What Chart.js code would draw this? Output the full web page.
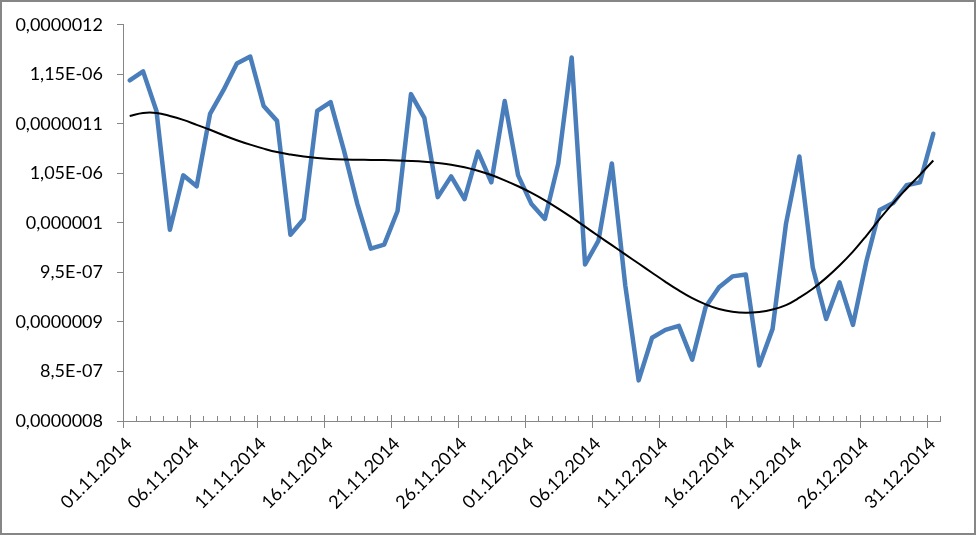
<!DOCTYPE html>
<html>
<head>
<meta charset="utf-8">
<script src="https://cdn.jsdelivr.net/npm/chart.js@4"></script>
<style>
  html, body { margin: 0; padding: 0; background: #fff; }
  #wrap { width: 976px; height: 535px; position: relative; }
</style>
</head>
<body>
<div id="wrap"><canvas id="graf" width="976" height="535"></canvas></div>
<script>
const dates = [
    '01.11.2014', '02.11.2014', '03.11.2014', '04.11.2014', '05.11.2014', '06.11.2014', '07.11.2014', '08.11.2014',
    '09.11.2014', '10.11.2014', '11.11.2014', '12.11.2014', '13.11.2014', '14.11.2014', '15.11.2014', '16.11.2014',
    '17.11.2014', '18.11.2014', '19.11.2014', '20.11.2014', '21.11.2014', '22.11.2014', '23.11.2014', '24.11.2014',
    '25.11.2014', '26.11.2014', '27.11.2014', '28.11.2014', '29.11.2014', '30.11.2014', '01.12.2014', '02.12.2014',
    '03.12.2014', '04.12.2014', '05.12.2014', '06.12.2014', '07.12.2014', '08.12.2014', '09.12.2014', '10.12.2014',
    '11.12.2014', '12.12.2014', '13.12.2014', '14.12.2014', '15.12.2014', '16.12.2014', '17.12.2014', '18.12.2014',
    '19.12.2014', '20.12.2014', '21.12.2014', '22.12.2014', '23.12.2014', '24.12.2014', '25.12.2014', '26.12.2014',
    '27.12.2014', '28.12.2014', '29.12.2014', '30.12.2014', '31.12.2014'
];

// measured values
const values = [
    11.44e-7, 11.53e-7, 11.13e-7, 9.93e-7, 10.48e-7, 10.37e-7, 11.10e-7, 11.34e-7, 11.61e-7, 11.68e-7,
    11.18e-7, 11.03e-7, 9.88e-7, 10.04e-7, 11.13e-7, 11.22e-7, 10.73e-7, 10.19e-7, 9.74e-7, 9.78e-7,
    10.12e-7, 11.30e-7, 11.06e-7, 10.26e-7, 10.47e-7, 10.24e-7, 10.72e-7, 10.41e-7, 11.23e-7, 10.48e-7,
    10.19e-7, 10.04e-7, 10.60e-7, 11.67e-7, 9.58e-7, 9.82e-7, 10.60e-7, 9.37e-7, 8.41e-7, 8.84e-7,
    8.92e-7, 8.96e-7, 8.62e-7, 9.15e-7, 9.35e-7, 9.46e-7, 9.48e-7, 8.56e-7, 8.93e-7, 9.99e-7,
    10.67e-7, 9.55e-7, 9.03e-7, 9.40e-7, 8.97e-7, 9.61e-7, 10.13e-7, 10.20e-7, 10.38e-7, 10.41e-7,
    10.90e-7
];

// trend line
const trend = [
    11.08e-7, 11.11e-7, 11.11e-7, 11.08e-7, 11.04e-7, 10.99e-7, 10.94e-7, 10.885e-7, 10.835e-7, 10.79e-7,
    10.75e-7, 10.715e-7, 10.69e-7, 10.67e-7, 10.655e-7, 10.645e-7, 10.64e-7, 10.638e-7, 10.636e-7, 10.634e-7,
    10.631e-7, 10.626e-7, 10.618e-7, 10.605e-7, 10.588e-7, 10.562e-7, 10.527e-7, 10.483e-7, 10.43e-7, 10.37e-7,
    10.303e-7, 10.228e-7, 10.145e-7, 10.055e-7, 9.962e-7, 9.868e-7, 9.775e-7, 9.682e-7, 9.59e-7, 9.497e-7,
    9.405e-7, 9.318e-7, 9.24e-7, 9.178e-7, 9.13e-7, 9.102e-7, 9.092e-7, 9.10e-7, 9.125e-7, 9.17e-7,
    9.245e-7, 9.335e-7, 9.445e-7, 9.57e-7, 9.71e-7, 9.87e-7, 10.04e-7, 10.20e-7, 10.345e-7, 10.485e-7,
    10.63e-7
];

const yTicks = [8e-7, 8.5e-7, 9e-7, 9.5e-7, 10e-7, 10.5e-7, 11e-7, 11.5e-7, 12e-7];
const yTickLabels = ['0,0000008', '8,5E-07', '0,0000009', '9,5E-07', '0,000001', '1,05E-06', '0,0000011', '1,15E-06', '0,0000012'];

const axisColor = '#868686';

const frame = {
    id: 'frame',
    beforeDraw(chart) {
        const c = chart.ctx;
        c.save();
        c.fillStyle = '#fff';
        c.fillRect(0, 0, chart.width, chart.height);
        c.restore();
    },
    afterDraw(chart) {
        const c = chart.ctx;
        const x = chart.scales.x;
        const y0 = chart.chartArea.bottom;
        c.save();
        c.strokeStyle = axisColor;
        c.lineWidth = 1;
        for (var i = 0; i <= dates.length; i++) {
            const px = Math.round(x.getPixelForValue(i)) + 0.5;
            c.beginPath();
            if (i % 5 == 0) {
                c.moveTo(px, y0 - 6);
                c.lineTo(px, y0 + 7);
            } else {
                c.moveTo(px, y0 - 5);
                c.lineTo(px, y0);
            }
            c.stroke();
        }
        c.lineWidth = 2;
        c.strokeRect(1, 1, chart.width - 2, chart.height - 2);
        c.restore();
    }
};

const graf = document.getElementById('graf');
new Chart(graf, {
    type: 'line',
    data: {
        datasets: [{
            label: 'trend',
            data: trend.map((v, i) => ({ x: i + 0.5, y: v })),
            borderColor: '#000000',
            borderWidth: 2,
            pointRadius: 0,
            tension: 0.4,
            order: 0
        }, {
            label: 'values',
            data: values.map((v, i) => ({ x: i + 0.5, y: v })),
            borderColor: '#4a7ebb',
            borderWidth: 4.5,
            borderJoinStyle: 'round',
            borderCapStyle: 'round',
            pointRadius: 0,
            tension: 0,
            order: 1
        }]
    },
    options: {
        responsive: false,
        animation: false,
        events: [],
        layout: { padding: { left: 0, top: 24, right: 36, bottom: 0 } },
        plugins: {
            legend: { display: false },
            tooltip: { enabled: false }
        },
        scales: {
            x: {
                type: 'linear',
                min: 0,
                max: dates.length,
                afterFit: function (s) { s.height = 114; },
                afterBuildTicks: function (s) {
                    s.ticks = dates.map((d, i) => ({ value: i })).concat([{ value: dates.length }]);
                },
                grid: { drawOnChartArea: false, drawTicks: false },
                border: { color: axisColor, width: 1 },
                ticks: {
                    autoSkip: false,
                    maxRotation: 45,
                    minRotation: 45,
                    padding: 12,
                    labelOffset: 6,
                    color: '#000',
                    font: { family: 'Lato', size: 18 },
                    callback: function (v, i) { return (i % 5 == 0 && i < dates.length) ? dates[i] : ''; }
                }
            },
            y: {
                min: yTicks[0],
                max: yTicks[yTicks.length - 1],
                afterFit: function (s) { s.width = 123; },
                afterBuildTicks: function (s) {
                    s.ticks = yTicks.map(v => ({ value: v }));
                },
                grid: { drawOnChartArea: false, tickLength: 6, color: axisColor },
                border: { color: axisColor, width: 1 },
                ticks: {
                    padding: 14,
                    color: '#000',
                    font: { family: 'Lato', size: 18 },
                    callback: function (v, i) { return yTickLabels[i]; }
                }
            }
        }
    },
    plugins: [frame]
});
</script>
</body>
</html>
